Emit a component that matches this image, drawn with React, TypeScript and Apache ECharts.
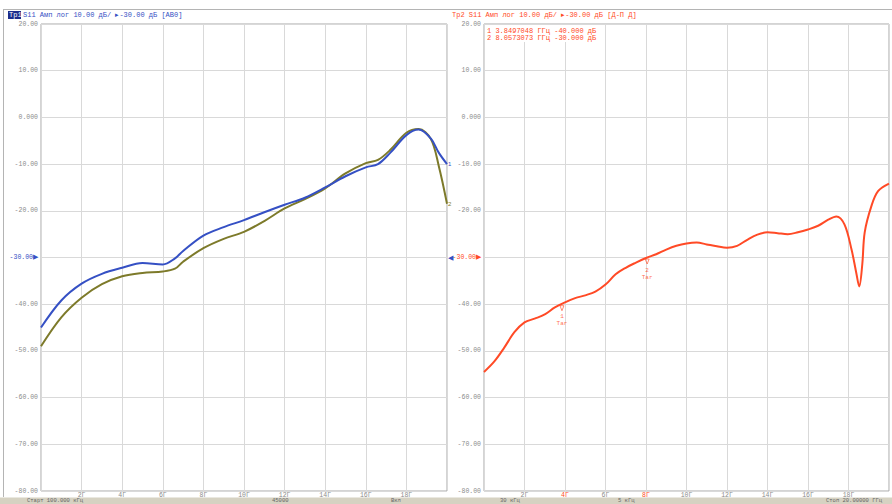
import React, { useEffect, useRef } from "react";
import * as echarts from "echarts";

// ---- data ----
const freqLeft = [0, 1, 2, 3, 4, 5, 6, 6.6, 7, 8, 9, 10, 11, 12, 13, 14, 15, 16, 16.6, 17.2, 18, 18.6, 19.2, 19.6, 20];
const blueValues = [-45.0, -39.2, -35.6, -33.5, -32.2, -31.2, -31.5, -30.2, -28.6, -25.3, -23.5, -22.0, -20.3, -18.7, -17.2, -15.0, -12.6, -10.7, -10.0, -7.6, -3.8, -2.6, -4.5, -7.6, -10.0];
const oliveValues = [-49.0, -42.8, -38.6, -35.7, -34.0, -33.3, -33.0, -32.4, -30.9, -28.0, -26.0, -24.5, -22.2, -19.5, -17.5, -15.2, -12.0, -9.8, -9.1, -7.0, -3.3, -2.5, -4.6, -10.5, -18.5];

const freqRight = [0, 0.5, 1, 1.5, 2, 2.5, 3, 3.5, 4, 4.5, 5, 5.5, 6, 6.5, 7, 7.5, 8, 8.5, 9, 9.5, 10, 10.5, 11, 11.5, 12, 12.5, 13, 13.5, 14, 14.5, 15, 15.5, 16, 16.5, 17, 17.4, 17.8, 18.15, 18.38, 18.53, 18.68, 18.8, 19.13, 19.46, 20];
const redValues = [-54.5, -52.3, -49.3, -46.0, -43.9, -43.1, -42.2, -40.7, -39.6, -38.7, -38.1, -37.3, -35.8, -33.6, -32.2, -31.1, -30.1, -29.3, -28.3, -27.5, -27.0, -26.8, -27.2, -27.6, -27.9, -27.5, -26.2, -25.1, -24.6, -24.8, -25.0, -24.6, -24.0, -23.2, -21.9, -21.2, -22.9, -28.3, -33.2, -36.2, -31.5, -24.6, -19.0, -15.8, -14.2];

const markerFreqs = [3.8497048, 8.0573073];
const markerValues = [-40, -30];
const markerLines = ["1 3.8497048 ГГц -40.000 дБ", "2 8.0573073 ГГц -30.000 дБ"];

const xTickLabels = ["2Г", "4Г", "6Г", "8Г", "10Г", "12Г", "14Г", "16Г", "18Г"];
const xTickValues = [2, 4, 6, 8, 10, 12, 14, 16, 18];

const headerLeft = "S11 Амп лог 10.00 дБ/ ▸-30.00 дБ [АВ0]";
const headerRight = "Тр2 S11 Амп лог 10.00 дБ/ ▸-30.00 дБ [Д-П Д]";
const statusTexts = ["Старт 100.000 кГц", "45000", "Вкл", "30 кГц", "5 кГц", "Стоп 20.00000 ГГц"];

const BLUE = "#3550c4";
const OLIVE = "#7d7a2a";
const RED = "#ff4a26";
const GRAY = "#8c8c8c";
const FONT = "Liberation Mono";

function yFmt(v: number) {
  if (v === 0) return "0.000";
  return v.toFixed(2);
}

export default function App() {
  const ref = useRef<HTMLDivElement>(null);
  useEffect(() => {
    const chart = echarts.init(ref.current!, null, { renderer: "svg" });
    const gridLeft = { left: 41, top: 24, width: 406, height: 467 };
    const gridRight = { left: 484, top: 24, width: 407, height: 467 };

    const xAxisBase = (gridIndex: number, hl: number[]) => ({
      type: "value",
      gridIndex,
      min: 0,
      max: 20,
      interval: 2,
      axisLine: { show: false },
      axisTick: { show: false },
      splitLine: { show: true, lineStyle: { color: "#d9d9d9", width: 1 } },
      axisLabel: {
        margin: 1,
        fontSize: 6.5,
        fontFamily: FONT,
        formatter: (v: number) => {
          const i = xTickValues.indexOf(v);
          if (i < 0) return "";
          return hl.indexOf(v) >= 0 ? `{h|${xTickLabels[i]}}` : `{n|${xTickLabels[i]}}`;
        },
        rich: {
          n: { color: GRAY, fontSize: 6.5, fontFamily: FONT },
          h: { color: RED, fontSize: 6.5, fontFamily: FONT },
        },
      },
    });

    const yAxisBase = (gridIndex: number, hlColor: string) => ({
      type: "value",
      gridIndex,
      min: -80,
      max: 20,
      interval: 10,
      axisLine: { show: false },
      axisTick: { show: false },
      splitLine: { show: true, lineStyle: { color: "#d9d9d9", width: 1 } },
      axisLabel: {
        margin: 3,
        fontFamily: FONT,
        fontSize: 6.5,
        formatter: (v: number) =>
          v === -30 ? `{h|${yFmt(v)}}{a|▶}` : `{n|${yFmt(v)}}`,
        rich: {
          n: { color: GRAY, fontSize: 6.5, fontFamily: FONT },
          h: { color: hlColor, fontSize: 6.5, fontFamily: FONT },
          a: { color: hlColor, fontSize: 6.5 },
        },
      },
    });

    const toPairs = (xs: number[], ys: number[]) => xs.map((x, i) => [x, ys[i]]);
    const statusX = [27, 272, 391, 500, 618, 826];

    chart.setOption({
      animation: false,
      backgroundColor: "#ffffff",
      grid: [
        { ...gridLeft, show: true, borderColor: "#a8a8a8", borderWidth: 1, backgroundColor: "#fff" },
        { ...gridRight, show: true, borderColor: "#a8a8a8", borderWidth: 1, backgroundColor: "#fff" },
      ],
      xAxis: [xAxisBase(0, []), xAxisBase(1, [4, 8])],
      yAxis: [
        yAxisBase(0, BLUE),
        yAxisBase(1, RED),
        {
          type: "value",
          gridIndex: 0,
          position: "right",
          min: -80,
          max: 20,
          interval: 10,
          axisLine: { show: false },
          axisTick: { show: false },
          splitLine: { show: false },
          axisLabel: {
            margin: 1,
            fontSize: 6.5,
            color: BLUE,
            formatter: (v: number) => (v === -30 ? "◀" : ""),
          },
        },
      ],
      series: [
        {
          type: "line",
          xAxisIndex: 0,
          yAxisIndex: 0,
          data: toPairs(freqLeft, oliveValues),
          smooth: 0.35,
          showSymbol: false,
          lineStyle: { color: OLIVE, width: 2 },
          endLabel: { show: true, formatter: "2", color: OLIVE, fontSize: 6, distance: 1 },
        },
        {
          type: "line",
          xAxisIndex: 0,
          yAxisIndex: 0,
          data: toPairs(freqLeft, blueValues),
          smooth: 0.35,
          showSymbol: false,
          lineStyle: { color: BLUE, width: 2 },
          endLabel: { show: true, formatter: "1", color: BLUE, fontSize: 6, distance: 1 },
        },
        {
          type: "line",
          xAxisIndex: 1,
          yAxisIndex: 1,
          data: toPairs(freqRight, redValues),
          smooth: 0.35,
          showSymbol: false,
          lineStyle: { color: RED, width: 2 },
        },
        {
          type: "scatter",
          xAxisIndex: 1,
          yAxisIndex: 1,
          data: toPairs(markerFreqs, markerValues),
          symbol: "path://M0,0 L4,0 L2,5 Z",
          symbolSize: [4, 5],
          symbolOffset: [0, 4],
          itemStyle: { color: "none", borderColor: RED, borderWidth: 0.8 },
          label: {
            show: true,
            position: "bottom",
            distance: 0,
            color: RED,
            fontSize: 6,
            lineHeight: 7,
            fontFamily: FONT,
            formatter: (p: any) => `${p.dataIndex + 1}\nTar`,
          },
        },
      ],
      graphic: [
        { type: "line", shape: { x1: 3, y1: 9.5, x2: 892, y2: 9.5 }, style: { stroke: "#b4b4b4", lineWidth: 1 } },
        { type: "line", shape: { x1: 3.5, y1: 9.5, x2: 3.5, y2: 497 }, style: { stroke: "#b4b4b4", lineWidth: 1 } },
        { type: "rect", shape: { x: 8, y: 11, width: 13, height: 8 }, style: { fill: "#1c2d8c" } },
        {
          type: "text",
          x: 9,
          y: 15,
          style: { text: "Тр1", fill: "#ffffff", fontSize: 7, fontFamily: FONT, textVerticalAlign: "middle" },
        },
        {
          type: "text",
          x: 23,
          y: 15,
          style: { text: headerLeft, fill: BLUE, fontSize: 7, fontFamily: FONT, textVerticalAlign: "middle" },
        },
        {
          type: "text",
          x: 452,
          y: 15,
          style: { text: headerRight, fill: RED, fontSize: 7, fontFamily: FONT, textVerticalAlign: "middle" },
        },
        { type: "rect", shape: { x: 485, y: 25, width: 113, height: 17 }, style: { fill: "#ffffff" }, z: 100 },
        {
          type: "text",
          x: 487,
          y: 27,
          z: 101,
          style: {
            text: markerLines.join("\n"),
            fill: RED,
            fontSize: 7,
            lineHeight: 7.5,
            fontFamily: FONT,
            textVerticalAlign: "top",
          },
        },
        { type: "rect", shape: { x: 0, y: 497.5, width: 892, height: 6.5 }, style: { fill: "#d6d2c2" } },
        ...statusTexts.map((t, i) => ({
          type: "text",
          x: statusX[i],
          y: 503.8,
          style: { text: t, fill: "#666", fontSize: 5.5, fontFamily: FONT, textVerticalAlign: "bottom" },
        })),
      ],
    });
    return () => chart.dispose();
  }, []);
  return (
    <div
      ref={ref}
      style={{ position: "fixed", left: 0, top: 0, width: 892, height: 504, background: "#fff" }}
    />
  );
}
